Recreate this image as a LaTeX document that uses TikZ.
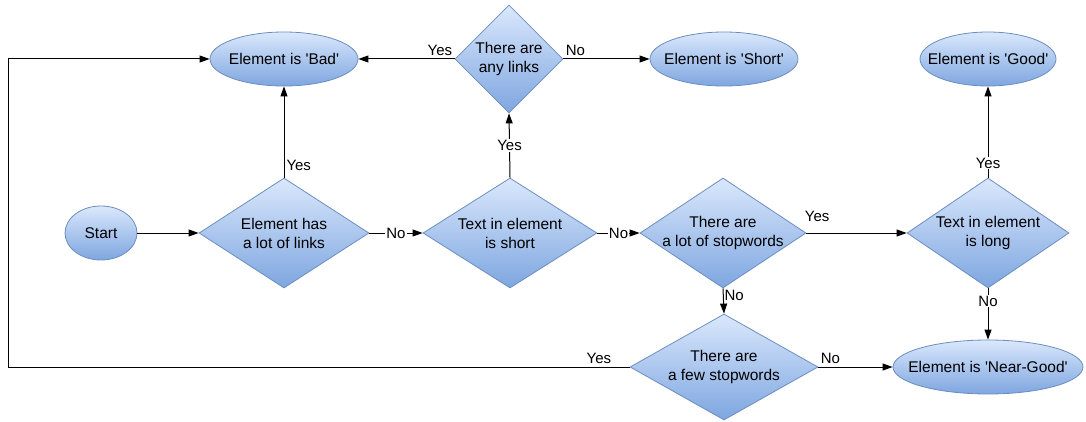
\documentclass[tikz,border=0pt]{standalone}
\usepackage{fontspec}
\setmainfont{Liberation Sans}
\usetikzlibrary{shapes.geometric,arrows.meta}
\definecolor{fillTop}{HTML}{DAE8FC}
\definecolor{fillBot}{HTML}{7EA6E0}
\definecolor{strokeC}{HTML}{6C8EBF}
\newcommand{\sq}{\textquotesingle}
\tikzset{
  base/.style={draw=strokeC, line width=0.8pt, top color=fillTop, bottom color=fillBot, inner sep=0pt},
  term/.style={base, ellipse, minimum height=54pt},
  dia/.style={base, diamond},
  dtxt/.style={align=center, font=\fontsize{15.5}{19}\selectfont, inner sep=0pt},
  arr/.style={line width=1pt, -{Triangle[length=10pt,width=7pt]}},
  lab/.style={font=\fontsize{15}{17}\selectfont, inner sep=2pt},
  wlab/.style={lab, fill=white, inner sep=1pt},
}
\begin{document}
\begin{tikzpicture}[x=1pt,y=1pt]
\useasboundingbox (0,0) rectangle (1086,421);
% terminals
\node[term, minimum width=148pt, label={[dtxt]center:{Element is \sq Bad\sq}}] (bad) at (284,362) {};
\node[term, minimum width=148pt, label={[dtxt]center:{Element is \sq Short\sq}}] (short) at (724,362) {};
\node[term, minimum width=136pt, label={[dtxt]center:{Element is \sq Good\sq}}] (good) at (988,362) {};
\node[term, minimum width=72pt, label={[dtxt]center:{Start}}] (start) at (101,188) {};
\node[term, minimum width=190pt, label={[dtxt]center:{Element is \sq Near-Good\sq}}] (ng) at (988,54) {};
% decisions
\node[dia, minimum width=108pt, minimum height=108pt, label={[dtxt]center:{There are\\any links}}] (any) at (509,362) {};
\node[dia, minimum width=170pt, minimum height=110pt, label={[dtxt]center:{Element has\\a lot of links}}] (d1) at (284,188) {};
\node[dia, minimum width=174pt, minimum height=110pt, label={[dtxt]center:{Text in element\\is short}}] (d2) at (510,188) {};
\node[dia, minimum width=166pt, minimum height=110pt, label={[dtxt]center:{There are\\a lot of stopwords}}] (d3) at (723,188) {};
\node[dia, minimum width=162pt, minimum height=110pt, label={[dtxt]center:{Text in element\\is long}}] (d4) at (988,188) {};
\node[dia, minimum width=188pt, minimum height=106pt, label={[dtxt]center:{There are\\a few stopwords}}] (d5) at (724,54) {};
\coordinate (lc) at (8,54);
% connectors
\draw[arr] (start) -- (d1);
\draw[arr] (d1.north) -- node[lab, pos=0.13, anchor=west] {Yes} (bad.south);
\draw[arr] (d1.east) -- node[wlab, pos=0.5] {No} (d2.west);
\draw[arr] (d2.north) -- node[wlab, pos=0.5] {Yes} (any.south);
\draw[arr] (any.west) -- node[lab, pos=0, anchor=south east, yshift=1pt] {Yes} (bad.east);
\draw[arr] (any.east) -- node[lab, pos=0, anchor=south west, yshift=1pt] {No} (short.west);
\draw[arr] (d2.east) -- node[wlab, pos=0.5] {No} (d3.west);
\draw[arr] (d3.east) -- node[lab, pos=0, anchor=south west, xshift=-4pt, yshift=9pt] {Yes} (d4.west);
\draw[arr] (d3.south) -- node[lab, pos=0, anchor=north west, inner sep=1pt] {No} (d5.north);
\draw[arr] (d4.north) -- node[wlab, pos=0.16] {Yes} (good.south);
\draw[arr] (d4.south) -- node[wlab, pos=0.25] {No} (ng.north);
\draw[arr] (d5.east) -- node[lab, pos=0, anchor=south west, yshift=1pt] {No} (ng.west);
\draw[arr] (d5.west) -- node[lab, pos=0, anchor=south east, xshift=-16pt, yshift=1pt] {Yes} (lc) |- (bad.west);
\end{tikzpicture}
\end{document}
